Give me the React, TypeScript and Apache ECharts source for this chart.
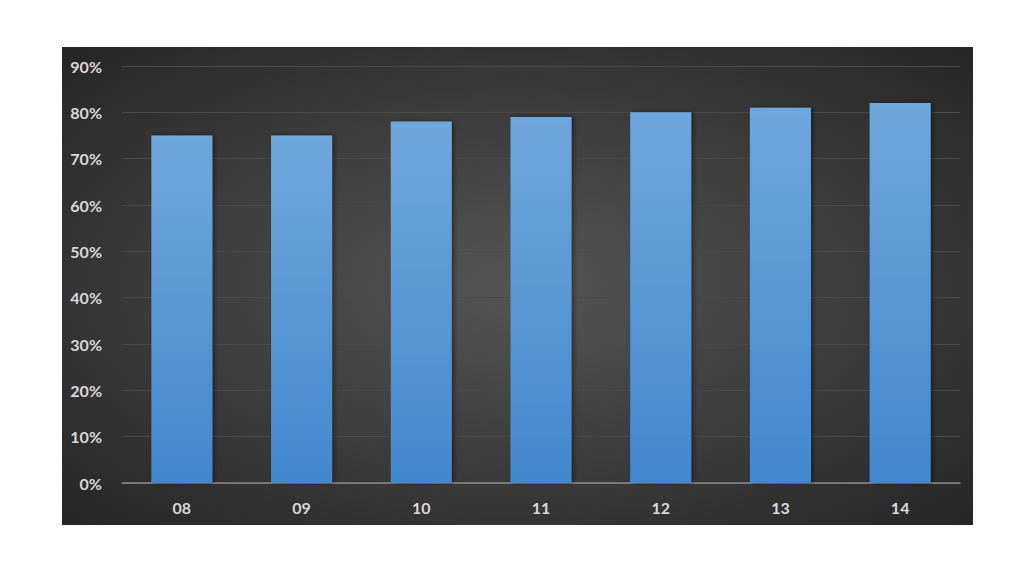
import React, { useEffect, useRef } from "react";
import * as echarts from "echarts";

const categories = ["08", "09", "10", "11", "12", "13", "14"];
const values = [75, 75, 78, 79, 80, 81, 82];
const yTicks = { min: 0, max: 90, interval: 10 };

export default function App() {
  const ref = useRef<HTMLDivElement>(null);
  useEffect(() => {
    if (!ref.current) return;
    const chart = echarts.init(ref.current, undefined, { renderer: "svg" });
    const font = "Lato, 'Open Sans', sans-serif";
    chart.setOption({
      animation: false,
      backgroundColor: "#ffffff",
      graphic: [
        {
          type: "rect",
          z: -10,
          silent: true,
          shape: { x: 62, y: 47, width: 911, height: 478 },
          style: {
            fill: {
              type: "radial",
              x: 0.5,
              y: 0.5,
              r: 0.7,
              colorStops: [
                { offset: 0, color: "#555555" },
                { offset: 1, color: "#262626" },
              ],
            },
          },
        },
      ],
      grid: { left: 122, right: 64, top: 66, bottom: 93, containLabel: false },
      xAxis: {
        type: "category",
        data: categories,
        axisLine: { lineStyle: { color: "#8c8c8c", width: 1.5 } },
        axisTick: { show: false },
        axisLabel: {
          color: "#d9d9d9",
          fontFamily: font,
          fontWeight: "bold",
          fontSize: 16,
          margin: 16,
        },
      },
      yAxis: {
        type: "value",
        min: yTicks.min,
        max: yTicks.max,
        interval: yTicks.interval,
        axisLine: { show: false },
        axisTick: { show: false },
        splitLine: { lineStyle: { color: "#4a4a4a", width: 1 } },
        axisLabel: {
          color: "#d9d9d9",
          fontFamily: font,
          fontWeight: "bold",
          fontSize: 16,
          margin: 20,
          formatter: "{value}%",
        },
      },
      series: [
        {
          type: "bar",
          data: values,
          barWidth: "51%",
          itemStyle: {
            color: {
              type: "linear",
              x: 0,
              y: 0,
              x2: 0,
              y2: 1,
              colorStops: [
                { offset: 0, color: "#6fa7dc" },
                { offset: 1, color: "#4288cd" },
              ],
            },
            shadowColor: "rgba(0,0,0,0.45)",
            shadowBlur: 4,
            shadowOffsetX: 2,
            shadowOffsetY: 0,
          },
        },
      ],
    });
    return () => chart.dispose();
  }, []);
  return (
    <div
      ref={ref}
      style={{ position: "fixed", left: 0, top: 0, width: 1024, height: 576 }}
    />
  );
}
